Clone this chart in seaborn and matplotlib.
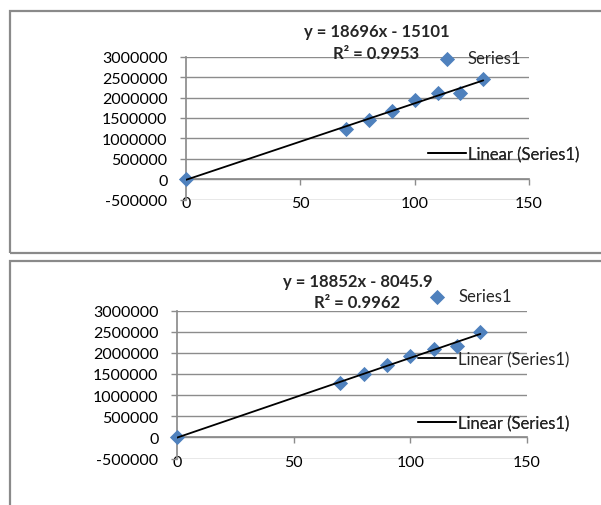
import numpy as np
import pandas as pd
import seaborn as sns
import matplotlib.pyplot as plt
from matplotlib.patches import Rectangle

# data
x_vals = [0, 70, 80, 90, 100, 110, 120, 130]
top_y = [0, 1230000, 1460000, 1680000, 1930000, 2100000, 2120000, 2460000]
bottom_y = [0, 1280000, 1500000, 1700000, 1930000, 2090000, 2150000, 2500000]

top_eq = "y = 18696x - 15101"
top_r2 = "R² = 0.9953"
bottom_eq = "y = 18852x - 8045.9"
bottom_r2 = "R² = 0.9962"

x_ticks = [0, 50, 100, 150]
y_ticks = list(range(-500000, 3000001, 500000))

W, H = 601, 506
BLUE = "#4F81BD"
GRID = "#8c8c8c"

sns.set_theme(style="white")
plt.rcParams["font.family"] = ["Lato", "DejaVu Sans"]


def fx(x):
    return x / W


def fy(y):
    return 1 - y / H


def make_axes(fig, left, right, top, bottom):
    return fig.add_axes([fx(left), fy(bottom), (right - left) / W, (bottom - top) / H])


def draw_chart(ax, ys):
    df = pd.DataFrame({"x": x_vals, "y": ys})
    sns.scatterplot(data=df, x="x", y="y", ax=ax, marker="D", s=60, color=BLUE,
                    edgecolor=BLUE, linewidth=0, clip_on=False, zorder=3)
    sns.regplot(data=df, x="x", y="y", ax=ax, scatter=False, ci=None,
                line_kws={"color": "black", "lw": 1.3, "zorder": 4})
    ax.set_xlim(0, 150)
    ax.set_ylim(-500000, 3000000)
    ax.set_xticks(x_ticks)
    ax.set_yticks(y_ticks)
    ax.set_yticklabels([str(v) for v in y_ticks])
    ax.set_xlabel("")
    ax.set_ylabel("")
    ax.grid(axis="y", color=GRID, lw=1)
    ax.grid(axis="x", visible=False)
    for s in ["top", "right"]:
        ax.spines[s].set_visible(False)
    ax.spines["left"].set_color(GRID)
    ax.spines["bottom"].set_color(GRID)
    ax.spines["bottom"].set_position(("data", 0))
    ax.tick_params(axis="x", bottom=True, direction="out", length=4, width=1,
                   color=GRID, pad=8.5, labelsize=11.5, labelcolor="black")
    ax.tick_params(axis="y", left=True, direction="out", length=4.3, width=1,
                   color=GRID, pad=9, labelsize=11.5, labelcolor="black")
    return ax.collections[0], ax.lines[-1]


def add_legend(ax, fig, handle, label, x, y):
    leg = ax.legend([handle], [label], loc="center left", bbox_to_anchor=(fx(x), fy(y)),
                    bbox_transform=fig.transFigure, frameon=False, handlelength=2.3,
                    handletextpad=0.1, borderpad=0, borderaxespad=0, fontsize=12,
                    scatterpoints=1)
    ax.add_artist(leg)


fig = plt.figure(figsize=(W / 100, H / 100), dpi=100)

# panel borders
fig.patches.append(Rectangle((fx(10.5), fy(253.5)), fx(700), 242 / H, transform=fig.transFigure,
                             fill=False, edgecolor="#8a8a8a", lw=1.6))
fig.patches.append(Rectangle((fx(10.5), fy(560)), fx(700), (560 - 261.5) / H, transform=fig.transFigure,
                             fill=False, edgecolor="#8a8a8a", lw=1.6))

# top chart
ax1 = make_axes(fig, 186, 529, 57.7, 200.5)
sc1, ln1 = draw_chart(ax1, top_y)
fig.text(fx(377), fy(32), top_eq, ha="center", va="center", fontsize=12, fontweight="bold")
fig.text(fx(376), fy(54), top_r2, ha="center", va="center", fontsize=12, fontweight="bold")
add_legend(ax1, fig, sc1, "Series1", 428, 59)
add_legend(ax1, fig, ln1, "Linear (Series1)", 428, 155)

# bottom chart
ax2 = make_axes(fig, 177, 527, 311.5, 459.5)
sc2, ln2 = draw_chart(ax2, bottom_y)
fig.text(fx(358), fy(282), bottom_eq, ha="center", va="center", fontsize=12, fontweight="bold")
fig.text(fx(357.5), fy(303), bottom_r2, ha="center", va="center", fontsize=12, fontweight="bold")
add_legend(ax2, fig, sc2, "Series1", 418, 297)
add_legend(ax2, fig, ln2, "Linear (Series1)", 418, 360)
add_legend(ax2, fig, ln2, "Linear (Series1)", 418, 424)

fig.savefig("out.png", dpi=100)
